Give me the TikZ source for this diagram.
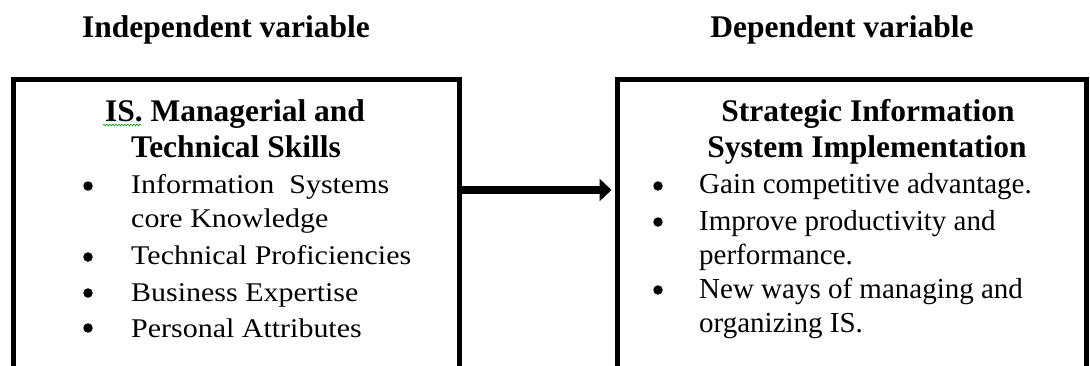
\documentclass[tikz,border=0pt]{standalone}
\usepackage{fontspec}
\setmainfont{Liberation Serif}
\newfontfamily\listfont[FakeStretch=1.11]{Liberation Serif}
\usetikzlibrary{arrows.meta,decorations.pathmorphing}
\tikzset{
  frame/.style={draw=black, line width=5pt, inner sep=0pt},
  hdr/.style={anchor=base, inner sep=0pt, font=\fontsize{31.5}{36}\selectfont\bfseries},
  ttl/.style={anchor=base, inner sep=0pt, font=\fontsize{31.5}{36}\selectfont\bfseries},
  litem/.style={anchor=base west, inner sep=0pt, font=\fontsize{27}{32}\selectfont\listfont},
  ritem/.style={anchor=base west, inner sep=0pt, font=\fontsize{29}{34}\selectfont},
  bul/.style={circle, fill=black, inner sep=0pt, minimum size=9.5pt},
  link/.style={line width=8pt, -{Triangle[length=12pt 0 0, width=22pt 0 0]}, shorten >=3pt},
  spell/.style={draw=green!60!black, line width=0.6pt, decorate, decoration={snake, amplitude=0.9pt, segment length=3pt}}
}
\begin{document}
\begin{tikzpicture}[x=1pt,y=-1pt]
\useasboundingbox (0,0) rectangle (1090,365);
\clip (0,0) rectangle (1090,365);
% headers
\node[hdr] (hL) at (226,37) {Independent variable};
\node[hdr] (hR) at (842,37) {Dependent variable};
% boxes
\node[frame, minimum width=446pt, minimum height=341pt] (L) at (236,249.5) {};
\node[frame, minimum width=469pt, minimum height=341pt] (R) at (851.5,249.5) {};
% arrow
\coordinate (A) at (500,190);
\draw[link] (L.east |- A) -- (R.west |- A);
% left content
\node[ttl] (lt1) at (235,121) {IS. Managerial and};
\node[ttl] (lt2) at (236,157) {Technical Skills};
\coordinate (sq1) at (103,125);
\coordinate (sq2) at (141,125);
\path[spell] (sq1) -- (sq2);
\node[bul] (lb1) at (88,186) {};
\node[litem] (li1) at (131,193) {Information\ \ Systems};
\node[litem] (li1b) at (131,227) {core Knowledge};
\node[bul] (lb2) at (88,257) {};
\node[litem] (li2) at (131,264) {Technical Proficiencies};
\node[bul] (lb3) at (88,293) {};
\node[litem] (li3) at (131,301) {Business Expertise};
\node[bul] (lb4) at (88,328) {};
\node[litem] (li4) at (131,337) {Personal Attributes};
% right content
\node[ttl] (rt1) at (868,121) {Strategic Information};
\node[ttl] (rt2) at (867,157) {System Implementation};
\node[bul] (rb1) at (658,186) {};
\node[ritem] (ri1) at (699,193) {Gain competitive advantage.};
\node[bul] (rb2) at (658,222) {};
\node[ritem] (ri2) at (699,230) {Improve productivity and};
\node[ritem] (ri2b) at (699,264) {performance.};
\node[bul] (rb3) at (658,290) {};
\node[ritem] (ri3) at (699,298) {New ways of managing and};
\node[ritem] (ri3b) at (699,332) {organizing IS.};
\end{tikzpicture}
\end{document}
